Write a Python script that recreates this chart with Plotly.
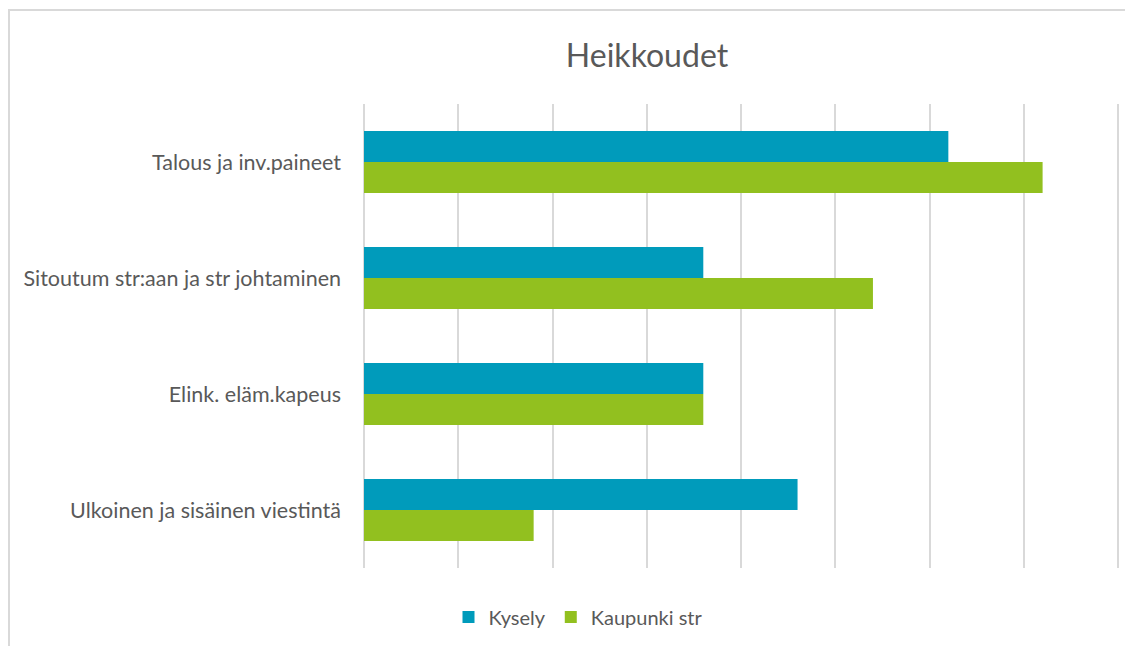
import plotly.graph_objects as go

categories = ["Talous ja inv.paineet", "Sitoutum str:aan ja str johtaminen",
              "Elink. eläm.kapeus", "Ulkoinen ja sisäinen viestintä"]
kysely = [6.2, 3.6, 3.6, 4.6]
kaupunki = [7.2, 5.4, 3.6, 1.8]
series_names = ["Kysely", "Kaupunki str"]
colors = ["#009BBB", "#92C01F"]
title_text = "Heikkoudet"

FONT = "Lato"
TXT = "#595959"
GRID = "#D9D9D9"

W, H = 1125, 638
L, R, T, B = 354, 13, 96, 78
PW, PH = W - L - R, H - T - B
PAD = 0.0212

fig = go.Figure()
for name, vals, col in zip(series_names, [kysely, kaupunki], colors):
    fig.add_trace(go.Bar(y=categories, x=vals, name=name, orientation="h",
                         marker=dict(color=col, line=dict(width=0))))

fig.update_layout(
    width=W, height=H,
    paper_bgcolor="white", plot_bgcolor="white",
    barmode="group", bargap=0.465, bargroupgap=0,
    margin=dict(l=L, r=R, t=T, b=B),
    title=dict(text=title_text, x=639/W, xanchor="center", xref="container",
               y=1-48/H, yanchor="middle", yref="container",
               font=dict(family=FONT, size=32, color=TXT)),
    font=dict(family=FONT, color=TXT),
    legend=dict(orientation="h", xref="container", yref="container",
                x=570/W, xanchor="center", y=1-609/H, yanchor="middle",
                font=dict(family=FONT, size=20, color=TXT), itemwidth=30,
                traceorder="normal"),
    xaxis=dict(range=[-PAD, 8 + PAD], dtick=1, showgrid=True, gridcolor=GRID, gridwidth=1.5,
               zeroline=True, zerolinecolor=GRID, zerolinewidth=1.5,
               showticklabels=False, showline=False, fixedrange=True),
    yaxis=dict(autorange="reversed", showgrid=False, showline=False, zeroline=False,
               tickfont=dict(family=FONT, size=21.5, color=TXT), ticklabelstandoff=20),
    shapes=[
        dict(type="line", xref="paper", yref="paper", x0=(0 - L)/PW, x1=(W - L)/PW,
             y0=1+(T-2)/PH, y1=1+(T-2)/PH, line=dict(color=GRID, width=2)),
        dict(type="line", xref="paper", yref="paper", x0=(1 - L)/PW, x1=(1 - L)/PW,
             y0=1+(T-2)/PH, y1=-B/PH, line=dict(color=GRID, width=2)),
    ],
)
fig.write_html("out.html")
